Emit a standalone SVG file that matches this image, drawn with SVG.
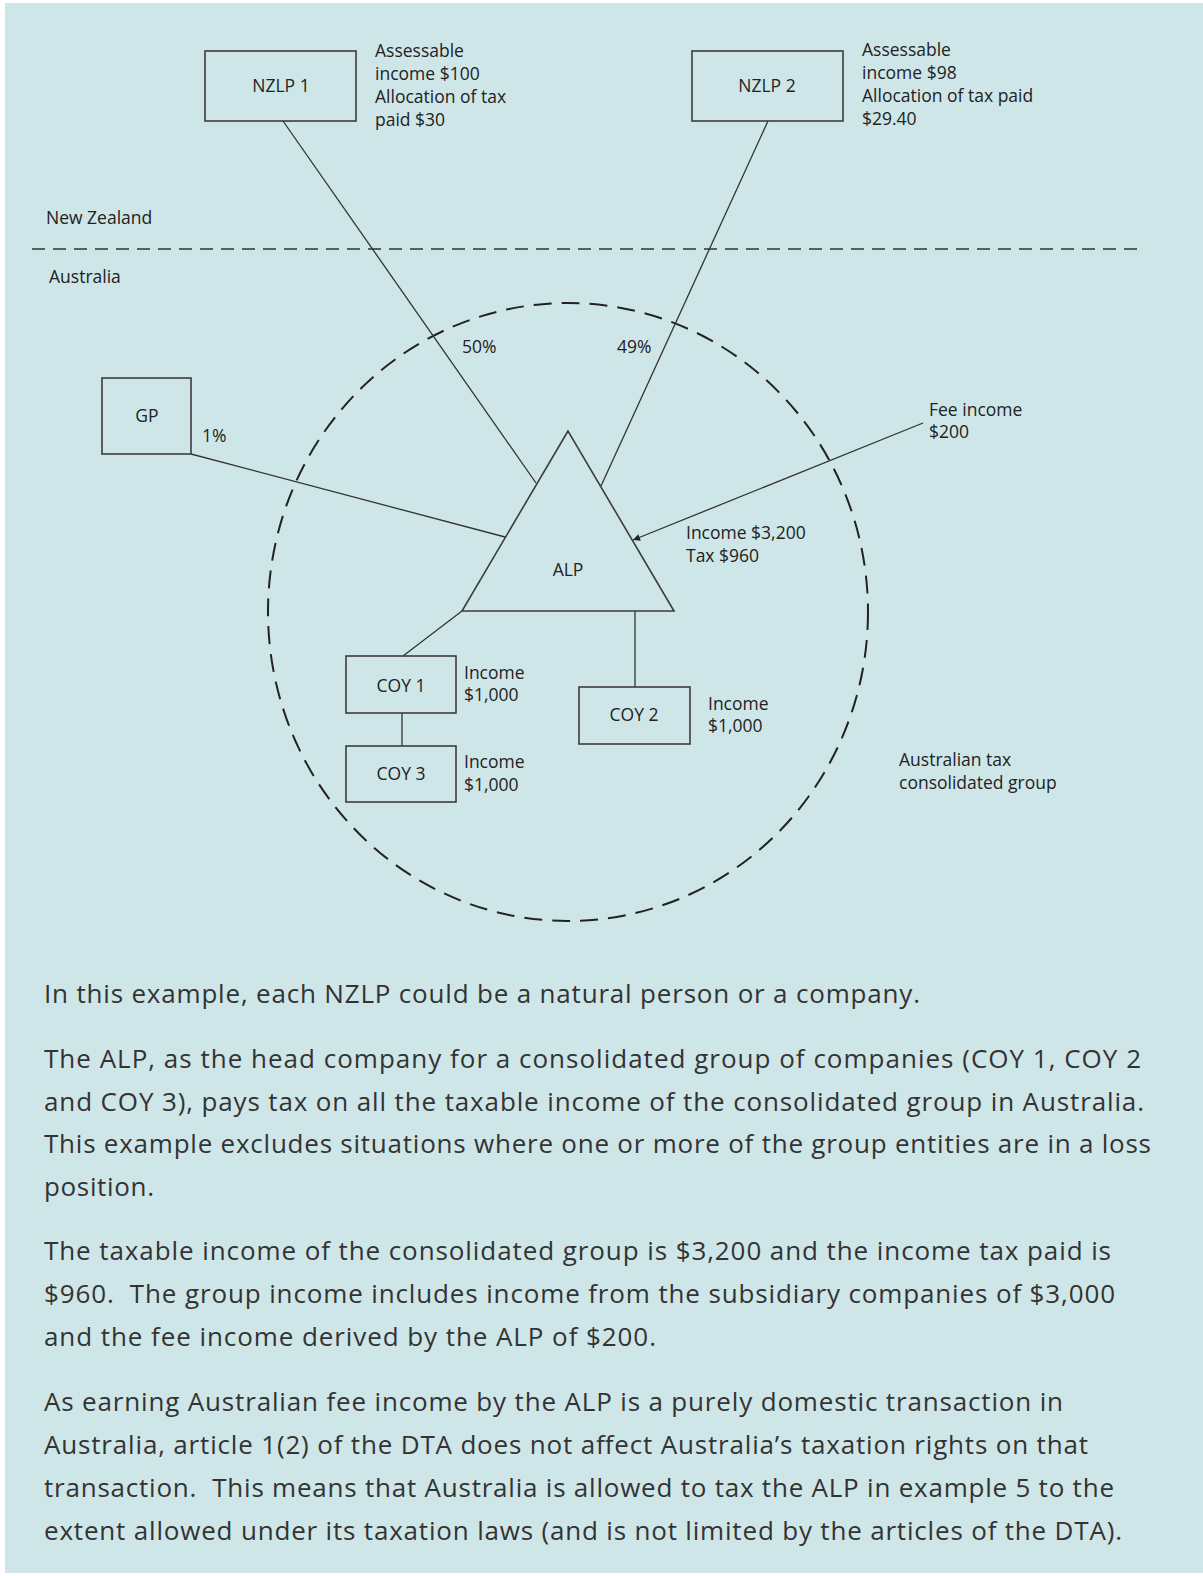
<svg xmlns="http://www.w3.org/2000/svg" width="1203" height="1576" viewBox="0 0 1203 1576">
<defs>
<style>
.bg{fill:#cfe6e9}
.box{fill:none;stroke:#3c3c3c;stroke-width:1.6}
.ln{fill:none;stroke:#333;stroke-width:1.3}
.t{font-family:"Open Sans","Noto Sans","Liberation Sans",sans-serif;font-size:17.5px;fill:#222}
.c{text-anchor:middle}
.p{font-family:"Open Sans","Noto Sans","Liberation Sans",sans-serif;font-size:26px;fill:#333}
</style>
<marker id="ah" viewBox="0 0 10 10" refX="10" refY="5" markerWidth="10" markerHeight="7" markerUnits="userSpaceOnUse" orient="auto">
<path d="M0,0 L10,5 L0,10 z" fill="#222"/>
</marker>
</defs>
<rect x="0" y="0" width="1203" height="1576" fill="#ffffff"/>
<rect class="bg" x="5" y="3" width="1198" height="1570"/>

<g id="regions">
<text class="t" x="46" y="224">New Zealand</text>
<text class="t" x="49" y="283">Australia</text>
<line x1="32" y1="249" x2="1142" y2="249" stroke="#333" stroke-width="1.5" stroke-dasharray="13 8"/>
</g>

<g id="group-boundary">
<ellipse cx="568" cy="612" rx="300" ry="309" fill="none" stroke="#222" stroke-width="2" stroke-dasharray="18 10"/>
<text class="t" x="899" y="766">Australian tax</text>
<text class="t" x="899" y="789">consolidated group</text>
</g>

<g id="connectors">
<line class="ln" x1="283" y1="121" x2="536" y2="483"/>
<line class="ln" x1="768" y1="121" x2="601" y2="486"/>
<line class="ln" x1="191" y1="454" x2="505" y2="537"/>
<line class="ln" x1="923" y1="423" x2="633" y2="540" marker-end="url(#ah)"/>
<line class="ln" x1="462" y1="611" x2="403" y2="656"/>
<line class="ln" x1="402" y1="713" x2="402" y2="746"/>
<line class="ln" x1="635" y1="611" x2="635" y2="687"/>
</g>

<g id="nzlp1">
<rect class="box" x="205" y="51" width="151" height="70"/>
<text class="t c" x="281" y="92">NZLP 1</text>
<text class="t" x="375" y="57">Assessable</text>
<text class="t" x="375" y="80">income $100</text>
<text class="t" x="375" y="103">Allocation of tax</text>
<text class="t" x="375" y="126">paid $30</text>
</g>

<g id="nzlp2">
<rect class="box" x="692" y="51" width="151" height="70"/>
<text class="t c" x="767" y="92">NZLP 2</text>
<text class="t" x="862" y="56">Assessable</text>
<text class="t" x="862" y="79">income $98</text>
<text class="t" x="862" y="102">Allocation of tax paid</text>
<text class="t" x="862" y="125">$29.40</text>
</g>

<g id="gp">
<rect class="box" x="102" y="378" width="89" height="76"/>
<text class="t c" x="147" y="422">GP</text>
<text class="t" x="202" y="442">1%</text>
</g>

<g id="labels">
<text class="t" x="462" y="353">50%</text>
<text class="t" x="617" y="353">49%</text>
<text class="t" x="929" y="416">Fee income</text>
<text class="t" x="929" y="438">$200</text>
<text class="t" x="686" y="539">Income $3,200</text>
<text class="t" x="686" y="562">Tax $960</text>
</g>

<g id="alp">
<polygon class="box" points="568,431 462,611 674,611"/>
<text class="t c" x="568" y="576">ALP</text>
</g>

<g id="coy1">
<rect class="box" x="346" y="656" width="110" height="57"/>
<text class="t c" x="401" y="692">COY 1</text>
<text class="t" x="464" y="679">Income</text>
<text class="t" x="464" y="701">$1,000</text>
</g>

<g id="coy3">
<rect class="box" x="346" y="746" width="110" height="56"/>
<text class="t c" x="401" y="780">COY 3</text>
<text class="t" x="464" y="768">Income</text>
<text class="t" x="464" y="791">$1,000</text>
</g>

<g id="coy2">
<rect class="box" x="579" y="687" width="111" height="57"/>
<text class="t c" x="634" y="721">COY 2</text>
<text class="t" x="708" y="710">Income</text>
<text class="t" x="708" y="732">$1,000</text>
</g>

<g id="text">
<text class="p" x="44" y="1003" textLength="876">In this example, each NZLP could be a natural person or a company.</text>
<text class="p" x="44" y="1068" textLength="1097">The ALP, as the head company for a consolidated group of companies (COY 1, COY 2</text>
<text class="p" x="44" y="1111" textLength="1100">and COY 3), pays tax on all the taxable income of the consolidated group in Australia.</text>
<text class="p" x="44" y="1153" textLength="1107">This example excludes situations where one or more of the group entities are in a loss</text>
<text class="p" x="44" y="1196" textLength="110">position.</text>
<text class="p" x="44" y="1260" textLength="1067">The taxable income of the consolidated group is $3,200 and the income tax paid is</text>
<text class="p" x="44" y="1303" textLength="1071" xml:space="preserve">$960.  The group income includes income from the subsidiary companies of $3,000</text>
<text class="p" x="44" y="1346" textLength="612">and the fee income derived by the ALP of $200.</text>
<text class="p" x="44" y="1411" textLength="1019">As earning Australian fee income by the ALP is a purely domestic transaction in</text>
<text class="p" x="44" y="1454" textLength="1044">Australia, article 1(2) of the DTA does not affect Australia’s taxation rights on that</text>
<text class="p" x="44" y="1497" textLength="1070" xml:space="preserve">transaction.  This means that Australia is allowed to tax the ALP in example 5 to the</text>
<text class="p" x="44" y="1540" textLength="1078">extent allowed under its taxation laws (and is not limited by the articles of the DTA).</text>
</g>
</svg>
